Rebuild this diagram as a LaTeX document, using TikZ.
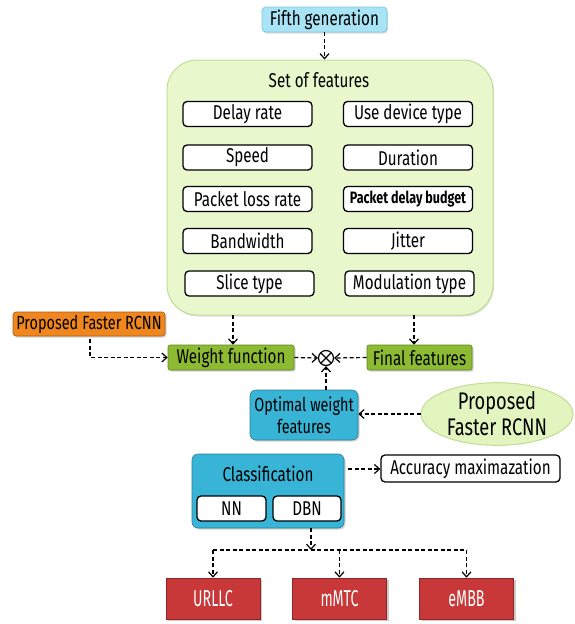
\documentclass[tikz,border=0pt]{standalone}
\usepackage{fontspec}
\setmainfont[FakeStretch=0.76]{Fira Sans}
\newfontfamily\narrowfont[FakeStretch=0.62]{Fira Sans}
\usetikzlibrary{arrows.meta,shapes.geometric,shadows,calc}
\definecolor{cyanbox}{HTML}{A8E4F6}
\definecolor{cyanedge}{HTML}{7CC8E0}
\definecolor{setfill}{HTML}{E8F8CC}
\definecolor{setedge}{HTML}{C2DC94}
\definecolor{orangebox}{HTML}{F0861E}
\definecolor{greenbox}{HTML}{8CBB32}
\definecolor{bluebox}{HTML}{38B4D6}
\definecolor{redbox}{HTML}{C83838}
\definecolor{ellfill}{HTML}{E2F5BE}
\begin{document}
\begin{tikzpicture}[x=1pt,y=-1pt,
  every node/.style={font=\fontsize{20}{22}\selectfont, inner sep=0pt},
  feat/.style={draw=black, line width=1.3pt, fill=white, rounded corners=4pt, minimum width=129pt, minimum height=25pt},
  gbox/.style={fill=greenbox, draw=greenbox!70!black, line width=0.6pt, rounded corners=2pt, minimum height=25pt, drop shadow={opacity=0.35, shadow xshift=1.5pt, shadow yshift=-1.5pt}},
  bbox/.style={fill=bluebox, draw=bluebox!70!black, line width=0.6pt, rounded corners=6pt, drop shadow={opacity=0.35, shadow xshift=1.5pt, shadow yshift=-1.5pt}},
  rbox/.style={fill=redbox, draw=redbox!70!black, line width=0.6pt, minimum width=94pt, minimum height=41pt, text=white, font=\narrowfont\fontsize{23}{25}\selectfont, drop shadow={opacity=0.4, shadow xshift=2pt, shadow yshift=-2pt}},
  arr/.style={dashed, dash pattern=on 4pt off 2.5pt, line width=1.2pt, -{Straight Barb[length=5pt,width=9pt,line width=1.2pt]}},
  ln/.style={dashed, dash pattern=on 4pt off 2.5pt, line width=1.2pt}
]
\useasboundingbox (0,0) rectangle (574,624);

% Top
\node[fill=cyanbox, draw=cyanedge, line width=0.8pt, rounded corners=4pt, minimum width=125pt, minimum height=25pt, drop shadow={opacity=0.3, shadow xshift=1pt, shadow yshift=-1.5pt}] (fifth) at (324.5,19.5) {Fifth generation};

\node[fill=setfill, draw=setedge, line width=1pt, rounded corners=30pt, minimum width=326pt, minimum height=255pt, drop shadow={opacity=0.25, shadow xshift=1pt, shadow yshift=-1.5pt}] (set) at (330,187.5) {};
\node (settitle) at (319,80) {Set of features};

\node[feat] (f1) at (247.5,114) {Delay rate};
\node[feat] (f2) at (408,114) {Use device type};
\node[feat] (f3) at (247.5,157.5) {Speed};
\node[feat] (f4) at (408,157.5) {Duration};
\node[feat] (f5) at (247.5,199) {Packet loss rate};
\node[feat] (f6) at (408,199) {\fontsize{16.5}{18}\selectfont\bfseries Packet delay budget};
\node[feat] (f7) at (247.5,241) {Bandwidth};
\node[feat] (f8) at (408,241) {Jitter};
\node[feat] (f9) at (249.5,283.5) {Slice type};
\node[feat] (f10) at (409.5,283.5) {Modulation type};

\draw[arr] (fifth.south) -- (set.north -| fifth.south);

% Middle
\node[fill=orangebox, draw=orangebox!70!black, line width=0.6pt, rounded corners=3pt, minimum width=152pt, minimum height=24pt, font=\fontsize{19}{21}\selectfont, drop shadow={opacity=0.35, shadow xshift=1.5pt, shadow yshift=-1.5pt}] (prop1) at (89,324) {Proposed\kern4pt Faster RCNN};
\node[gbox, minimum width=126pt] (wf) at (231,357.5) {Weight function};
\node[gbox, minimum width=105pt] (ff) at (419.5,357.5) {Final features};
\node[circle, draw=black, line width=1.2pt, minimum size=15pt, fill=white] (mul) at (326,358) {};
\draw[line width=1.2pt] ($(mul.center)+(-5,-5)$) -- ($(mul.center)+(5,5)$);
\draw[line width=1.2pt] ($(mul.center)+(-5,5)$) -- ($(mul.center)+(5,-5)$);

\draw[arr] (233,315) coordinate (s1) -- (s1 |- wf.north);
\draw[arr] (414,315) coordinate (s2) -- (s2 |- ff.north);
\coordinate (pb) at (90,339);
\draw[arr] (pb) |- (wf.west);
\draw[arr] (wf.east) -- (mul.west);
\draw[arr] (ff.west) -- (mul.east);

\node[bbox, minimum width=108pt, minimum height=50pt, align=center, font=\fontsize{19}{22}\selectfont] (opt) at (304,415) {Optimal weight\\features};
\draw[arr] (opt.north -| mul.south) -- (mul.south);

\node[ellipse, fill=ellfill, draw=setedge, line width=1pt, minimum width=152pt, minimum height=62pt, align=center, font=\fontsize{24}{26}\selectfont] (prop2) at (497,414) {Proposed\\Faster RCNN};
\draw[arr] (prop2.west) -- (opt.east |- prop2.west);

% Classification
\node[bbox, minimum width=152pt, minimum height=74pt] (cls) at (268,491) {};
\node (clst) at (268,474) {Classification};
\node[feat, minimum width=69pt, minimum height=25pt] (nn) at (231.5,508.5) {NN};
\node[feat, minimum width=68pt, minimum height=25pt] (dbn) at (307,508.5) {DBN};

\node[feat, minimum width=179pt, minimum height=27pt] (acc) at (470.5,468.5) {Accuracy maximazation};
\draw[arr] ($(cls.east)+(4,-22)$) coordinate (ce) -- (acc.west |- ce);

% Outputs
\node[rbox] (u) at (213,598.5) {URLLC};
\node[rbox] (m) at (339.5,598.5) {mMTC};
\node[rbox] (e) at (466.5,598.5) {eMBB};

\coordinate (split) at (311,550);
\draw[arr] (cls.south -| split) -- (split);
\draw[ln] (u.north |- split) -- (e.north |- split);
\draw[arr] (u.north |- split) -- (u.north);
\draw[arr] (m.north |- split) -- (m.north);
\draw[arr] (e.north |- split) -- (e.north);
\end{tikzpicture}
\end{document}
